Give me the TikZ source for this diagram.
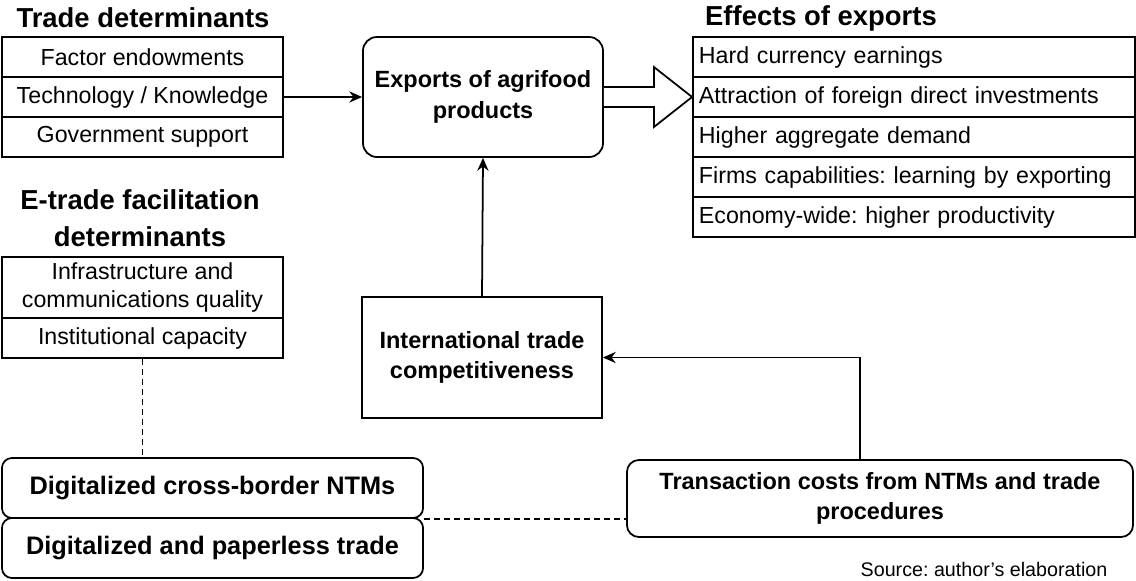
\documentclass[tikz,border=0pt]{standalone}
\usepackage{fontspec}
\setmainfont{Liberation Sans}
\frenchspacing
\usetikzlibrary{arrows.meta, calc}
\tikzset{
  cell/.style={draw, line width=1.25pt, minimum width=7.03cm, minimum height=1cm,
      inner sep=0pt, align=center, font=\fontsize{16.5}{19.5}\selectfont},
  effect/.style={draw, line width=1.25pt, minimum height=1cm, text width=10.75cm,
      inner xsep=0.15cm, inner ysep=0pt, align=left, font=\fontsize{16.5}{19.5}\selectfont},
  heading/.style={align=center, font=\bfseries\fontsize{19.5}{26}\selectfont},
  block/.style={draw, line width=1.25pt, align=center, font=\bfseries\fontsize{16.7}{21.5}\selectfont},
  rblock/.style={block, rounded corners=0.35cm},
  link/.style={line width=1.25pt, -{Stealth[length=0.32cm, width=0.28cm]}},
  dashlink/.style={line width=1.1pt, dash pattern=on 0.15cm off 0.1cm},
}

\begin{document}
\begin{tikzpicture}[x=0.025cm, y=-0.025cm]
  \useasboundingbox (0,0) rectangle (1136,580);
  % trade determinants
  \node[heading] (TDt) at (143,18) {Trade determinants};
  \node[cell] (TD1) at (142.5,57) {Factor endowments};
  \node[cell] (TD2) at (142.5,97) {Technology / Knowledge};
  \node[cell] (TD3) at (142.5,137) {Government support};
  % e-trade facilitation determinants
  \node[heading] (ETt) at (140,218) {E-trade facilitation\\determinants};
  \node[cell, minimum height=1.525cm] (ET1) at (142.5,287.5) {Infrastructure and\\communications quality};
  \node[cell] (ET2) at (142.5,338) {Institutional capacity};
  % exports and competitiveness
  \node[rblock, minimum width=6cm, minimum height=3cm] (EX) at (483,97) {Exports of agrifood\\products};
  \node[block, minimum width=6cm, minimum height=3.025cm] (ITC) at (482,357.5) {International trade\\competitiveness};
  % effects of exports
  \node[heading] (EFt) at (821,18) {Effects of exports};
  \node[effect] (EF1) at (914,57) {Hard currency earnings};
  \node[effect] (EF2) at (914,97) {Attraction of foreign direct investments};
  \node[effect] (EF3) at (914,137) {Higher aggregate demand};
  \node[effect] (EF4) at (914,177) {Firms capabilities: learning by exporting};
  \node[effect] (EF5) at (914,217) {Economy-wide: higher productivity};
  % digitalization and transaction costs
  \node[rblock, minimum width=10.525cm, minimum height=1.5cm, rounded corners=0.25cm,
      font=\bfseries\fontsize{18}{21}\selectfont] (DG1) at (212.5,488) {Digitalized cross-border NTMs};
  \node[rblock, minimum width=10.525cm, minimum height=1.5cm, rounded corners=0.25cm,
      font=\bfseries\fontsize{18}{21}\selectfont] (DG2) at (212.5,548) {Digitalized and paperless trade};
  \node[rblock, minimum width=12.65cm, minimum height=1.925cm, rounded corners=0.3cm] (TC) at (880,498.5)
      {Transaction costs from NTMs and trade\\procedures};
  \node[font=\fontsize{14}{16}\selectfont] (src) at (984,569) {Source: author's elaboration};
  % connectors
  \draw[link] (TD2.east) -- (EX.west);
  \draw[link] (ITC.north) -- (EX.south);
  \draw[link] ([xshift=-0.5cm]TC.north) |- (ITC.east);
  \draw[dashlink] (ET2.south) -- (ET2.south |- DG1.north);
  \draw[dashlink] (DG1.south east) -- (DG1.south east -| TC.west);
  % hollow arrow
  \draw[line width=1.25pt, fill=white] ($(EX.east)+(0,-10)$) -- ($(EX.east)+(50,-10)$)
    -- ($(EX.east)+(50,-30)$) -- (EF2.west) -- ($(EX.east)+(50,30)$)
    -- ($(EX.east)+(50,10)$) -- ($(EX.east)+(0,10)$);
\end{tikzpicture}
\end{document}
